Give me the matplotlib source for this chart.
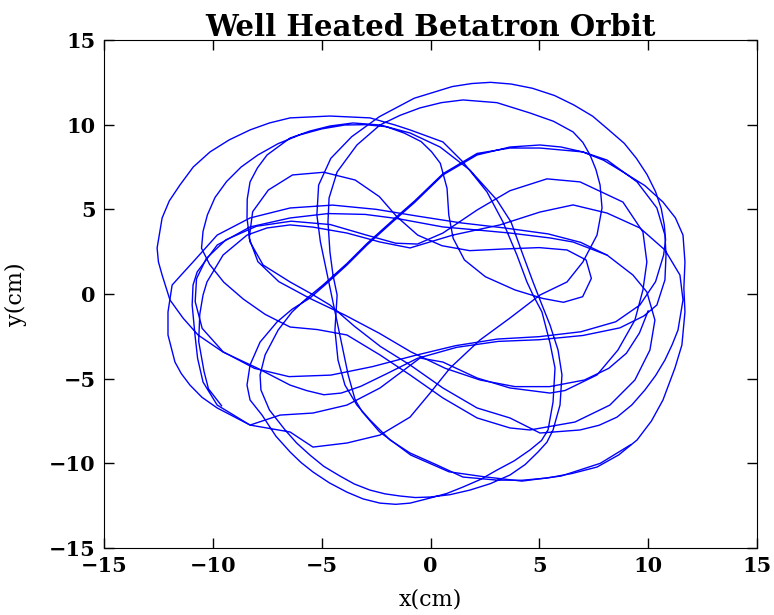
import numpy as np
import matplotlib
matplotlib.use("Agg")
import matplotlib.pyplot as plt

# Orbit trace (x, y) in cm; pass_one runs straight on into pass_two
pass_one = [
    (-9.60, -6.60), (-10.20, -5.60), (-10.40, -4.60), (-10.65, -2.80), (-10.60, -1.20), (-10.45, -0.06),
    (-10.27, 0.71), (-9.53, 2.30), (-8.43, 3.48), (-7.51, 3.90), (-6.45, 4.08), (-5.40, 3.95),
    (-3.84, 3.60), (-2.32, 3.07), (-0.94, 2.72), (1.03, 3.48), (3.19, 4.08), (5.03, 4.84), (6.55, 5.26),
    (8.11, 4.78), (9.62, 3.90), (10.77, 2.60), (11.46, 1.12), (11.60, -0.35), (11.37, -2.13),
    (11.10, -3.00), (10.77, -3.90), (10.35, -4.80), (9.85, -5.67), (9.25, -6.55), (8.57, -7.27),
    (7.75, -7.75), (6.87, -8.03), (5.03, -8.21), (3.65, -7.32), (2.14, -6.73), (0.57, -5.55),
    (-0.94, -4.19), (-2.30, -3.10), (-3.50, -1.90), (-4.62, -0.65), (-5.54, 0.06), (-6.45, 0.71),
    (-7.69, 1.71), (-8.29, 3.07), (-8.43, 4.49), (-8.42, 5.60), (-8.29, 6.62), (-7.95, 7.45),
    (-7.51, 8.21), (-6.45, 9.21), (-5.55, 9.62), (-4.62, 9.92), (-3.56, 10.10), (-2.32, 9.98),
    (-0.94, 9.51), (0.44, 8.68), (1.81, 7.32), (3.05, 5.55), (3.70, 4.25), (4.25, 2.30), (4.71, 0.71),
    (5.03, -0.35), (5.49, -1.83), (5.86, -3.31), (6.04, -4.78), (5.95, -6.56), (5.63, -8.03),
    (5.35, -8.75), (4.94, -9.33), (4.35, -10.07), (3.65, -10.69), (2.75, -11.20), (1.81, -11.58),
    (0.90, -11.85), (-0.02, -11.99), (-0.70, -12.02), (-1.40, -11.93), (-2.10, -11.80), (-2.78, -11.58),
    (-3.50, -11.22), (-4.16, -10.75), (-4.90, -10.18), (-5.54, -9.51), (-6.15, -8.80), (-6.68, -8.03),
    (-7.40, -6.85), (-7.79, -5.67), (-7.83, -4.78), (-7.60, -3.60), (-7.00, -2.13), (-6.36, -1.06),
    (-5.77, -0.35), (-4.94, 0.53), (-3.84, 1.80), (-2.92, 2.98), (-1.54, 4.58), (-0.71, 5.52),
    (0.57, 7.10), (2.14, 8.30), (3.65, 8.62), (5.03, 8.62), (7.00, 8.39), (8.11, 7.91), (9.49, 6.62),
    (10.40, 5.08), (10.77, 3.48), (10.82, 2.30), (10.77, 0.83), (10.40, -0.65), (9.80, -1.30),
    (8.70, -2.00), (7.00, -2.45), (5.00, -2.70), (3.10, -2.80), (1.20, -3.15), (-0.60, -3.80),
    (-2.00, -4.70), (-3.20, -5.45), (-4.10, -5.85),
]

pass_two = [
    (-4.90, -5.95), (-5.70, -5.70), (-6.45, -5.38), (-7.97, -4.37), (-9.53, -3.43), (-10.68, -2.42),
    (-11.37, -1.42), (-11.97, -0.35), (-12.33, 1.12), (-12.50, 1.90), (-12.56, 2.72), (-12.33, 4.49),
    (-12.00, 5.50), (-11.51, 6.44), (-10.90, 7.50), (-10.13, 8.39), (-9.25, 9.10), (-8.29, 9.69),
    (-7.40, 10.10), (-6.45, 10.40), (-4.62, 10.51), (-2.78, 10.40), (-1.63, 9.98), (-0.94, 9.69),
    (0.57, 8.98), (1.49, 7.80), (2.60, 6.02), (3.33, 4.25), (3.97, 2.30), (4.43, 0.71), (4.71, -0.06),
    (5.12, -1.06), (5.49, -2.89), (5.72, -4.37), (5.63, -6.38), (5.40, -8.03), (5.10, -8.65),
    (4.57, -9.21), (3.85, -9.85), (3.05, -10.40), (2.30, -10.95), (1.49, -11.40), (0.75, -11.78),
    (-0.02, -12.05), (-0.94, -12.35), (-1.60, -12.42), (-2.32, -12.35), (-3.10, -12.10), (-3.84, -11.70),
    (-4.65, -11.15), (-5.40, -10.51), (-5.95, -9.95), (-6.45, -9.33), (-7.10, -8.40), (-7.74, -7.15),
    (-8.29, -6.26), (-8.43, -5.38), (-8.29, -4.19), (-7.83, -2.84), (-7.05, -1.65), (-6.36, -0.90),
    (-5.54, -0.24), (-4.85, 0.53), (-3.84, 1.71), (-2.92, 2.89), (-1.54, 4.49), (-0.71, 5.43), (0.57, 7.03),
    (2.14, 8.21), (3.65, 8.68), (5.03, 8.80), (6.00, 8.68), (7.00, 8.39), (7.95, 7.90), (8.84, 7.21),
    (9.85, 6.40), (10.68, 5.43), (11.25, 4.50), (11.60, 3.48), (11.69, 1.89), (11.64, 0.35), (11.69, -1.06),
    (11.55, -3.01), (11.23, -4.37), (10.68, -6.26), (10.15, -7.50), (9.49, -8.62), (8.65, -9.50),
    (7.65, -10.22), (6.50, -10.60), (5.35, -10.87), (4.20, -11.00), (3.05, -10.99), (1.49, -10.81),
    (0.30, -10.10), (-0.94, -9.39), (-1.86, -8.62), (-2.78, -7.44), (-3.38, -6.56), (-3.93, -5.38),
    (-4.25, -3.90), (-4.39, -2.13), (-4.29, -0.06), (-4.48, 1.12), (-4.62, 2.48), (-4.71, 4.25),
    (-4.66, 5.67), (-4.29, 7.21), (-3.38, 8.80), (-2.32, 9.98), (-1.40, 10.55), (-0.48, 10.99),
    (0.50, 11.30), (1.49, 11.46), (3.05, 11.30), (4.57, 10.69), (5.65, 10.20), (6.55, 9.57), (7.00, 8.95),
    (7.33, 8.21), (7.60, 7.35), (7.79, 6.44), (7.88, 5.08), (7.65, 3.48), (7.00, 1.89), (6.27, 0.71),
    (5.03, -0.06), (3.65, -1.42), (2.27, -2.72), (0.90, -4.37), (-0.02, -5.85), (-0.94, -7.27),
    (-2.32, -8.33), (-3.84, -8.80), (-5.40, -9.04), (-6.45, -8.15), (-8.29, -7.74), (-9.80, -6.56),
    (-10.45, -5.20), (-10.70, -3.80), (-10.82, -2.42), (-10.95, -0.65), (-10.91, 0.53), (-10.72, 1.30),
    (-9.80, 2.89), (-8.29, 3.96), (-6.45, 4.49), (-4.70, 4.75), (-3.00, 4.70), (-1.50, 4.45), (0.57, 3.96),
    (2.14, 3.78), (3.65, 3.60), (5.49, 3.31), (6.55, 3.07), (8.11, 2.30), (9.30, 1.12), (9.94, 0.12),
    (10.31, -1.54), (10.08, -3.31), (9.39, -5.08), (8.24, -6.56), (6.64, -7.56), (4.57, -8.03),
    (3.65, -7.91), (2.14, -7.32), (0.57, -6.14), (-0.94, -4.78), (-2.32, -3.60), (-3.84, -2.42),
    (-5.20, -2.10), (-6.45, -1.95), (-7.60, -1.20), (-8.60, -0.30), (-9.50, 0.70), (-10.15, 1.75),
    (-10.52, 2.70), (-10.45, 3.70), (-10.25, 4.67), (-9.90, 5.70), (-9.37, 6.64), (-8.70, 7.50),
    (-7.93, 8.21), (-7.00, 8.88), (-6.02, 9.39), (-5.00, 9.75), (-3.94, 9.98), (-3.00, 10.00),
    (-2.03, 9.88), (-1.20, 9.50), (-0.43, 9.00), (0.05, 8.40), (0.45, 7.72), (0.76, 6.24), (0.84, 4.67),
    (1.04, 3.29), (1.56, 2.01), (2.52, 1.02), (3.88, 0.24), (5.15, -0.26), (6.11, -0.49), (6.99, -0.16),
    (7.39, 0.92), (7.15, 2.01), (6.27, 2.60), (4.99, 2.74), (3.40, 2.66), (1.80, 2.56), (0.53, 2.85),
    (-0.59, 3.48), (-1.55, 4.57), (-2.35, 5.75), (-3.46, 6.73), (-4.90, 7.19), (-6.34, 7.03),
    (-7.45, 6.14), (-8.17, 4.86), (-8.33, 3.29), (-7.93, 1.91), (-6.97, 0.73), (-5.54, -0.26),
    (-3.94, -1.24), (-2.35, -2.32), (-0.91, -3.41), (0.68, -4.39), (2.28, -5.08), (3.88, -5.47),
    (5.47, -5.47), (7.07, -5.08), (8.19, -4.39), (9.00, -3.50), (9.60, -2.30), (10.00, -1.00),
]

pass_three = [
    (9.20, -8.90), (7.80, -10.00), (6.00, -10.75), (4.20, -11.05), (2.44, -10.79), (0.85, -10.50),
    (-0.91, -9.51), (-2.35, -8.13), (-3.14, -6.95), (-3.46, -6.26), (-3.78, -4.79), (-4.10, -2.82),
    (-4.42, -0.85), (-4.74, 1.12), (-5.06, 3.09), (-5.22, 4.67), (-5.14, 6.43), (-4.58, 8.01),
    (-3.62, 9.29), (-2.35, 10.47), (-0.75, 11.56), (1.00, 12.25), (1.90, 12.43), (2.76, 12.50),
    (3.70, 12.40), (4.68, 12.15), (5.70, 11.72), (6.59, 11.16), (7.45, 10.50), (8.19, 9.69), (8.90, 8.90),
    (9.46, 8.01), (9.95, 7.05), (10.34, 6.04), (10.60, 5.05), (10.74, 4.08), (10.80, 3.20), (10.71, 2.30),
    (10.34, 0.73), (9.62, -0.65), (8.51, -1.64), (6.91, -2.23), (4.99, -2.52), (3.08, -2.66),
    (1.16, -3.05), (-0.75, -3.64), (-2.67, -4.29), (-4.58, -4.79), (-6.50, -4.88), (-8.09, -4.39),
    (-9.53, -3.41), (-10.49, -2.03), (-10.81, -0.45), (-10.75, 0.90), (-10.30, 2.10), (-9.40, 3.20),
    (-8.00, 4.00), (-6.40, 4.30), (-4.60, 4.10), (-3.00, 3.50), (-1.60, 3.00), (-0.60, 2.95), (0.57, 3.60),
    (2.14, 4.96), (3.65, 6.10), (5.35, 6.80), (6.87, 6.62), (8.84, 5.43), (9.76, 3.66), (9.94, 1.89),
    (9.76, 0.24), (9.39, -1.54), (8.61, -3.31), (7.65, -4.78), (6.18, -5.70), (5.49, -5.85), (3.65, -5.55),
    (2.14, -4.96), (0.57, -4.02), (-0.48, -3.78), (-2.32, -5.55), (-3.84, -6.56), (-5.40, -7.03),
    (-6.91, -7.15), (-8.29, -7.74), (-9.80, -6.73), (-10.50, -6.10), (-11.05, -5.38), (-11.45, -4.70),
    (-11.74, -4.02), (-12.06, -2.42), (-12.06, -1.06), (-11.87, 0.53), (-11.40, 1.20), (-10.91, 1.89),
    (-9.80, 3.48), (-8.29, 4.49), (-6.45, 5.08), (-4.50, 5.25), (-2.50, 5.00), (-0.60, 4.60), (1.40, 4.20),
    (3.40, 3.90), (5.40, 3.55), (6.90, 3.05), (8.10, 2.30),
]

xticks = [-15, -10, -5, 0, 5, 10, 15]
yticks = [-15, -10, -5, 0, 5, 10, 15]

plt.rcParams["font.family"] = "DejaVu Serif"

fig = plt.figure(figsize=(7.74, 6.15), dpi=100)
ax = fig.add_axes([104 / 774, 1 - 548 / 615, (757 - 104) / 774, (548 - 40) / 615])

for piece in (pass_one + pass_two, pass_three):
    xs, ys = zip(*piece)
    ax.plot(xs, ys, color="blue", lw=1.0, solid_joinstyle="round")

ax.set_xlim(-15, 15)
ax.set_ylim(-15, 15)
ax.set_xticks(xticks)
ax.set_yticks(yticks)
ax.set_xticklabels([f"\u2212{abs(t)}" if t < 0 else str(t) for t in xticks], fontweight="bold", fontsize=15)
ax.set_yticklabels([f"\u2212{abs(t)}" if t < 0 else str(t) for t in yticks], fontweight="bold", fontsize=15)
ax.tick_params(direction="in", length=7, width=1, top=True, right=True, pad=6)
ax.set_xlabel("x(cm)", fontsize=16, labelpad=9)
ax.set_ylabel("y(cm)", fontsize=16, labelpad=16)
ax.set_title("Well Heated Betatron Orbit", fontsize=21, fontweight="bold", pad=3)

fig.savefig("out.png", dpi=100)
